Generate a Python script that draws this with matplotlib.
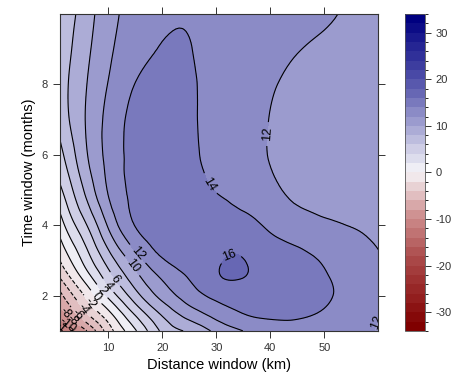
import numpy as np
import matplotlib
matplotlib.use("Agg")
import matplotlib.pyplot as plt
import matplotlib.tri as mtri
from matplotlib.colors import LinearSegmentedColormap, BoundaryNorm

plt.rcParams['font.family'] = ['Liberation Sans', 'DejaVu Sans']
plt.rcParams['axes.unicode_minus'] = False

# distance window (km) and time window (months) grid
distance = [1, 3, 6, 10, 15, 20, 25, 30, 33, 36, 40, 45, 50, 55, 60]
time = [1, 1.5, 2, 2.5, 3, 4, 5, 6, 7, 8, 9, 10]

z_rows = [
    [-13.0, -10.8, -8.0, -3.0, 1.8, 6.4, 8.3, 10.5, 11.5, 12.3, 13.2, 13.4, 13.0, 12.5, 11.9],
    [-9.0, -7.0, -4.0, -0.5, 4.4, 8.4, 11.0, 12.8, 13.6, 14.2, 14.4, 14.3, 13.8, 12.8, 12.1],
    [-6.6, -4.5, -1.5, 2.5, 7.2, 10.7, 13.0, 14.5, 15.0, 15.2, 15.2, 14.9, 14.3, 13.3, 12.5],
    [-4.0, -2.0, 1.0, 5.0, 9.2, 12.2, 14.1, 15.75, 16.1, 15.9, 15.5, 14.9, 14.2, 13.2, 12.3],
    [-2.0, 0.0, 3.0, 6.9, 11.0, 13.8, 15.1, 15.85, 16.15, 15.9, 15.3, 14.6, 13.8, 12.8, 12.1],
    [1.0, 3.2, 6.0, 10.3, 14.1, 15.4, 15.6, 15.4, 15.0, 14.6, 13.6, 12.8, 12.3, 11.95, 11.7],
    [3.6, 5.6, 8.6, 12.2, 14.5, 15.3, 14.9, 13.9, 13.4, 12.9, 12.3, 11.7, 11.4, 11.3, 11.3],
    [5.4, 7.2, 9.9, 12.6, 14.7, 15.1, 14.4, 13.4, 12.9, 12.4, 11.95, 11.5, 11.3, 11.3, 11.3],
    [6.6, 8.2, 10.2, 12.6, 14.6, 15.0, 14.3, 13.3, 12.8, 12.4, 11.97, 11.5, 11.3, 11.3, 11.3],
    [6.9, 8.3, 10.0, 12.1, 14.05, 14.6, 14.2, 13.4, 12.9, 12.6, 12.15, 11.7, 11.5, 11.4, 11.4],
    [6.8, 7.9, 9.6, 11.6, 13.3, 14.1, 14.05, 13.5, 13.2, 12.9, 12.5, 12.05, 11.8, 11.6, 11.5],
    [6.6, 7.5, 9.2, 11.2, 12.9, 13.7, 13.9, 13.5, 13.3, 13.1, 12.8, 12.5, 12.2, 11.8, 11.6],
]

levels = np.arange(-34, 35, 2)

# red - white - blue ramp as in the colour key
anchors = [(-34, '#800000'), (-20, '#a84444'), (-10, '#cd8c8c'), (0, '#f6f5f8'),
           (10, '#a6a6d3'), (20, '#5252aa'), (34, '#000080')]
cmap = LinearSegmentedColormap.from_list(
    'rwb', [((v + 34) / 68, c) for v, c in anchors], N=256)
norm = BoundaryNorm(levels, cmap.N)

xg, yg = np.meshgrid(distance, time)
z = np.array(z_rows)

# triangulate the rectangular grid
nx, ny = len(distance), len(time)
tris = []
for j in range(ny - 1):
    for i in range(nx - 1):
        a = j * nx + i
        tris.append([a, a + 1, a + nx + 1])
        tris.append([a, a + nx + 1, a + nx])
tri = mtri.Triangulation(xg.ravel(), yg.ravel(), np.array(tris))
refiner = mtri.UniformTriRefiner(tri)
tri_f, z_f = refiner.refine_field(z.ravel(), subdiv=3)

fig = plt.figure(figsize=(4.54, 3.79), dpi=100)
ax = fig.add_axes([0.132, 0.127, 0.701, 0.836])
cax = fig.add_axes([0.892, 0.127, 0.044, 0.836])

cf = ax.tricontourf(tri_f, z_f, levels=levels, cmap=cmap, norm=norm)
cs = ax.tricontour(tri_f, z_f, levels=levels, colors='black', linewidths=0.8)

label_pos = [(32.5, 3.15), (29.0, 5.2), (38.6, 6.6), (59.5, 1.25), (15.5, 3.2),
             (14.0, 2.8), (12.0, 2.55), (10.5, 2.35), (9.0, 2.15), (7.6, 1.95),
             (6.4, 1.75), (5.3, 1.6), (4.3, 1.45), (3.4, 1.3), (2.6, 1.2),
             (1.9, 1.1), (1.4, 1.05)]
ax.clabel(cs, fmt='%d', fontsize=9, inline=True, manual=label_pos)

ax.set_xlim(1, 60)
ax.set_ylim(1, 10)
ax.set_xticks([10, 20, 30, 40, 50])
ax.set_yticks([2, 4, 6, 8])
ax.tick_params(direction='out', length=5, width=0.7, labelsize=8,
               top=True, right=True, colors='#333333')
for s in ax.spines.values():
    s.set_linewidth(0.8)
    s.set_color('#333333')
ax.set_xlabel('Distance window (km)', fontsize=10.5)
ax.set_ylabel('Time window (months)', fontsize=10.5)

cb = fig.colorbar(cf, cax=cax, ticks=[-30, -20, -10, 0, 10, 20, 30])
cb.ax.tick_params(direction='out', length=4, width=0.7, labelsize=8, colors='#333333')
cb.outline.set_linewidth(0.6)
cb.outline.set_edgecolor('#555555')

fig.savefig('out.png', dpi=100)
